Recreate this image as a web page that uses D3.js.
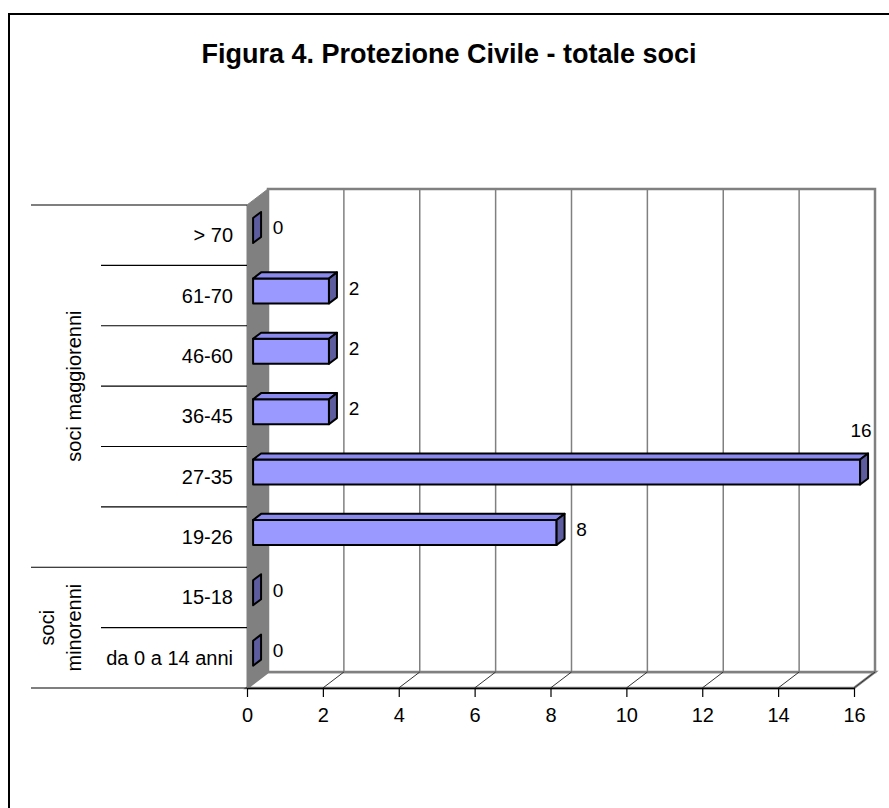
<!DOCTYPE html>
<html>
<head>
<meta charset="utf-8">
<script src="https://cdn.jsdelivr.net/npm/d3@7"></script>
<style>
  body { margin: 0; background: #fff; }
  text { font-family: "Liberation Sans", Arial, sans-serif; }
</style>
</head>
<body>
<div id="container"></div>
<script>
// data, top row first
const categories = ["> 70", "61-70", "46-60", "36-45", "27-35", "19-26", "15-18", "da 0 a 14 anni"];
const values = [0, 2, 2, 2, 16, 8, 0, 0];
const groups = [
  { label: ["soci maggiorenni"], from: "> 70", to: "19-26" },
  { label: ["soci", "minorenni"], from: "15-18", to: "da 0 a 14 anni" }
];
const tickValues = [0, 2, 4, 6, 8, 10, 12, 14, 16];

const width = 889, height = 808;
const DX = 21, DY = -16; // depth of the 3d box

const svg = d3.select("#container").append("svg")
    .attr("width", width)
    .attr("height", height);

// frame (right and bottom fall outside the picture)
svg.append("path")
    .attr("d", "M9,808 L9,14 L889,14")
    .attr("fill", "none")
    .attr("stroke", "#000")
    .attr("stroke-width", 2);

svg.append("text")
    .attr("x", 449)
    .attr("y", 63)
    .attr("text-anchor", "middle")
    .style("font-size", "27px")
    .style("font-weight", "bold")
    .text("Figura 4. Protezione Civile - totale soci");

const x = d3.scaleLinear().domain([0, 16]).range([247, 854]);
const y = d3.scaleBand().domain(categories).range([205, 688]);
const bw = y.bandwidth();
const x0 = x(0), yTop = y.range()[0], yBot = y.range()[1];

// side wall
svg.append("path")
    .attr("d", `M${x0},${yTop} L${x0 + DX},${yTop + DY} L${x0 + DX},${yBot + DY} L${x0},${yBot} Z`)
    .attr("fill", "#808080")
    .attr("stroke", "#808080");

// floor
svg.append("path")
    .attr("d", `M${x0},${yBot} L${x0 + DX},${yBot + DY} L${x(16) + DX},${yBot + DY} L${x(16)},${yBot} Z`)
    .attr("fill", "#fff")
    .attr("stroke", "#808080")
    .attr("stroke-width", 2.5);

// back wall
svg.append("rect")
    .attr("x", x0 + DX)
    .attr("y", yTop + DY)
    .attr("width", x(16) - x0)
    .attr("height", yBot - yTop)
    .attr("fill", "#fff")
    .attr("stroke", "#808080")
    .attr("stroke-width", 2.5);

// gridlines on wall and floor
tickValues.filter(v => v > 0 && v < 16).forEach(v => {
    svg.append("line")
        .attr("x1", x(v) + DX).attr("x2", x(v) + DX)
        .attr("y1", yTop + DY).attr("y2", yBot + DY)
        .attr("stroke", "#808080")
        .attr("stroke-width", 1.5);
});
tickValues.filter(v => v > 0).forEach(v => {
    svg.append("line")
        .attr("x1", x(v)).attr("y1", yBot)
        .attr("x2", x(v) + DX).attr("y2", yBot + DY)
        .attr("stroke", "#333")
        .attr("stroke-width", 1);
});

// x axis
const xAxis = svg.append("g")
    .attr("transform", `translate(0,${yBot})`)
    .call(d3.axisBottom(x).tickValues(tickValues).tickSize(9).tickSizeOuter(0).tickPadding(11));
xAxis.select(".domain").attr("stroke", "#000").attr("stroke-width", 1.5);
xAxis.selectAll(".tick line").attr("stroke", "#000").attr("stroke-width", 1.2);
xAxis.selectAll("text")
    .style("font-size", "20px")
    .style("font-family", "'Liberation Sans', Arial, sans-serif")
    .attr("fill", "#000");

// category separators
const groupStarts = groups.map(g => g.from);
categories.forEach(c => {
    const isGroupStart = groupStarts.includes(c);
    svg.append("line")
        .attr("x1", isGroupStart ? 31 : 101).attr("x2", x0)
        .attr("y1", y(c)).attr("y2", y(c))
        .attr("stroke", "#000")
        .attr("stroke-width", 1.2);
});
svg.append("line")
    .attr("x1", 31).attr("x2", x0)
    .attr("y1", yBot).attr("y2", yBot)
    .attr("stroke", "#000")
    .attr("stroke-width", 1.2);

// category labels
categories.forEach(c => {
    svg.append("text")
        .attr("x", 233)
        .attr("y", y(c) + bw / 2)
        .attr("dy", "0.35em")
        .attr("text-anchor", "end")
        .style("font-size", "20px")
        .text(c);
});

// group labels, rotated
groups.forEach(g => {
    const cy = (y(g.from) + y(g.to) + bw) / 2;
    const n = g.label.length;
    g.label.forEach((line, i) => {
        const bx = 81 - (n - 1 - i) * 27;
        svg.append("text")
            .attr("transform", `translate(${bx},${cy}) rotate(-90)`)
            .attr("text-anchor", "middle")
            .style("font-size", "20px")
            .text(line);
    });
});

// 3d bars
const f0 = 0.29, f1 = 0.67, barH = 25;
const frontCol = "#9999FF", topCol = "#8A8AEE", sideCol = "#5C5C9E";
categories.forEach((c, i) => {
    const v = values[i];
    const cy = y(c) + bw / 2;
    const ax = DX * f0, ay = DY * f0;
    const bx = DX * f1, by = DY * f1;
    const xl = x(0) + ax, xr = x(v) + ax;
    const yt = cy + ay - barH / 2, yb = cy + ay + barH / 2;
    const ddx = bx - ax, ddy = by - ay;
    const g = svg.append("g")
        .attr("stroke", "#000")
        .attr("stroke-width", 2)
        .attr("stroke-linejoin", "round");
    if (v > 0) {
        g.append("rect")
            .attr("x", xl).attr("y", yt)
            .attr("width", xr - xl).attr("height", barH)
            .attr("fill", frontCol);
        g.append("path")
            .attr("d", `M${xl},${yt} L${xl + ddx},${yt + ddy} L${xr + ddx},${yt + ddy} L${xr},${yt} Z`)
            .attr("fill", topCol);
    }
    g.append("path")
        .attr("d", `M${xr},${yt} L${xr + ddx},${yt + ddy} L${xr + ddx},${yb + ddy} L${xr},${yb} Z`)
        .attr("fill", sideCol);

    // value label: beside the bar, or above it when it would leave the plot
    const overflow = x(v) + 40 > x(16) + DX;
    svg.append("text")
        .attr("x", overflow ? xr + 1 : xr + 25)
        .attr("y", overflow ? cy - 46 : cy - 7.5)
        .attr("dy", "0.35em")
        .attr("text-anchor", "middle")
        .style("font-size", "19px")
        .text(v);
});
</script>
</body>
</html>
